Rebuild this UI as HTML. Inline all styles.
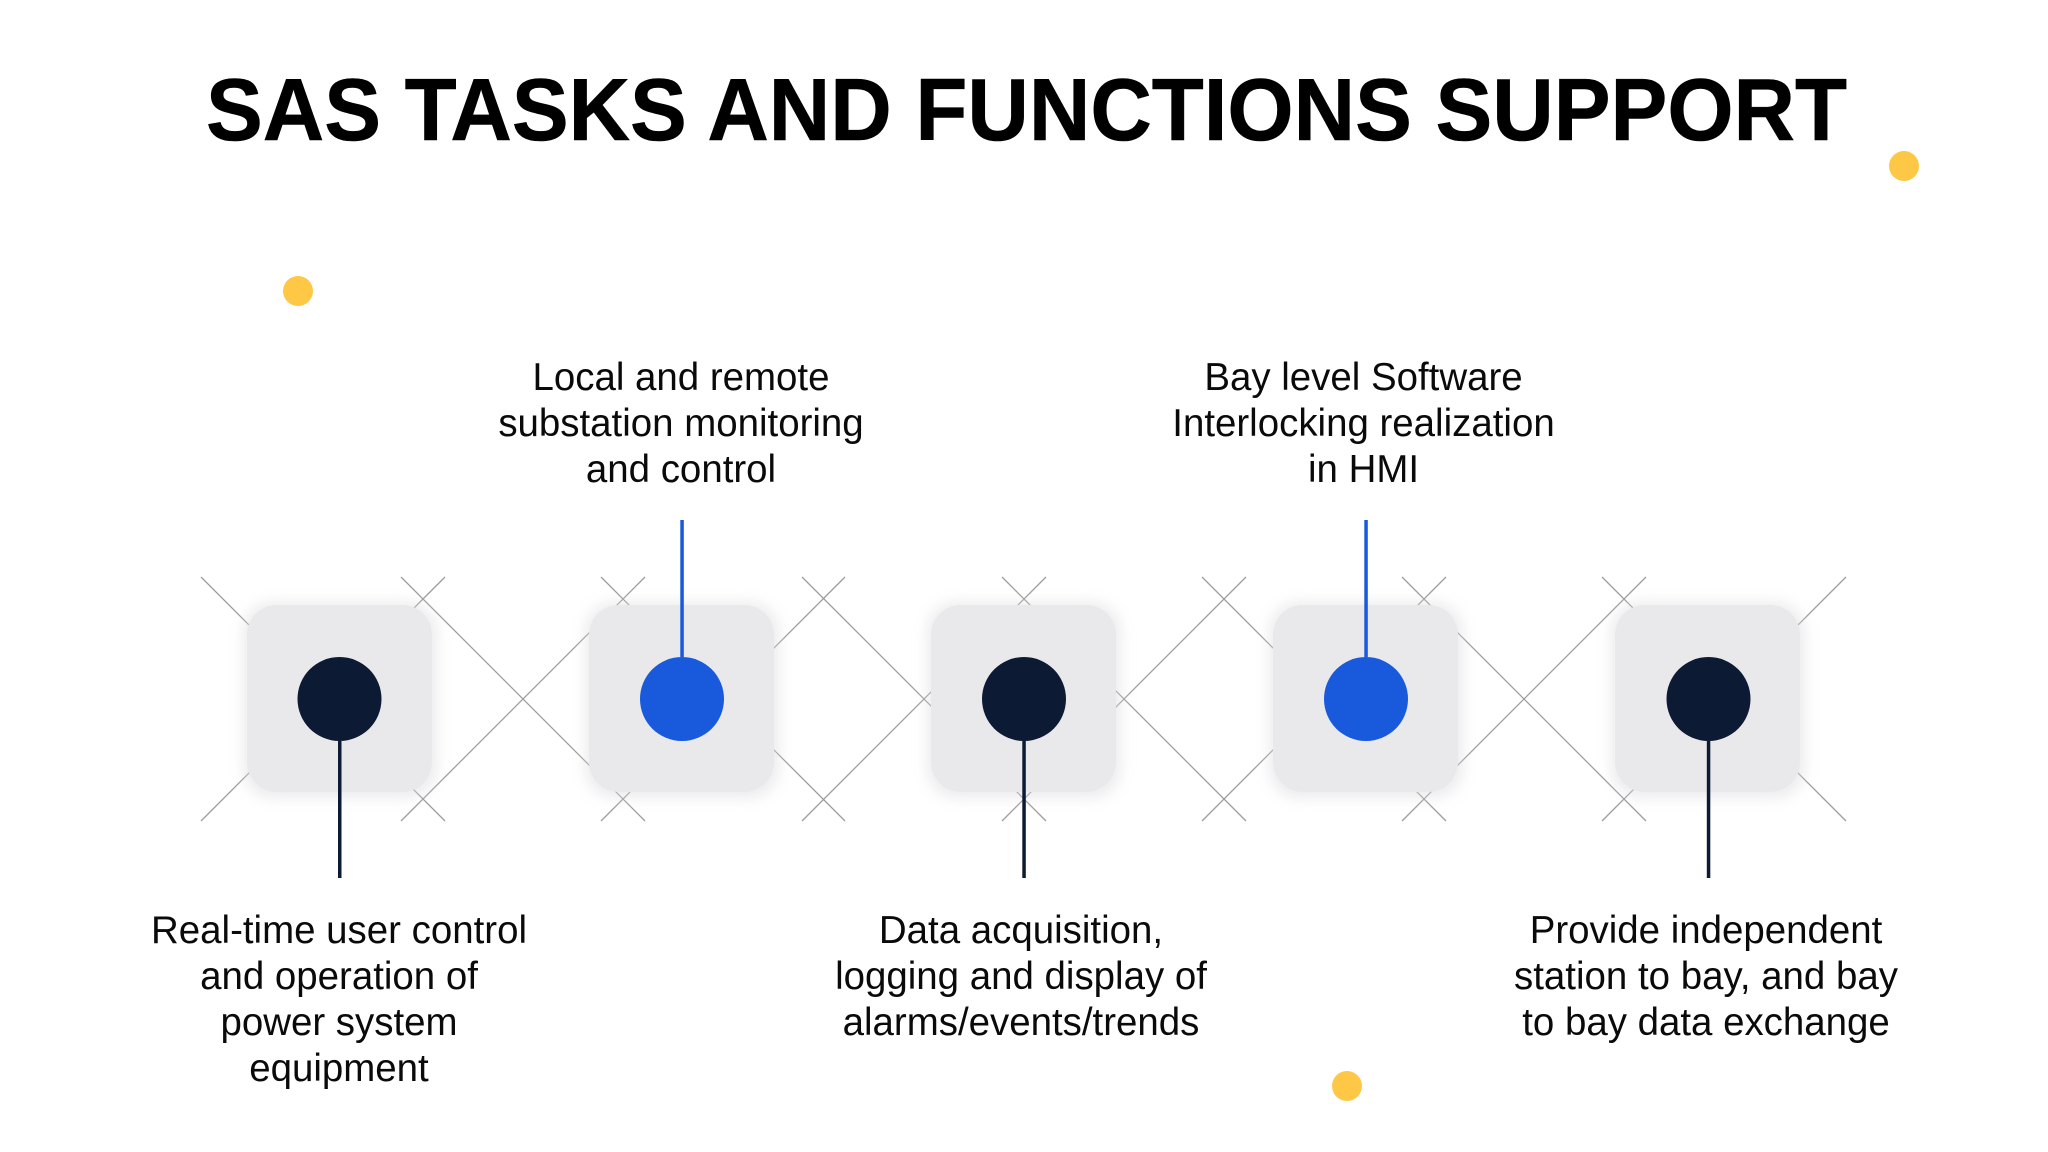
<!DOCTYPE html>
<html><head><meta charset="utf-8"><style>
html,body{margin:0;padding:0;background:#fff}
svg{display:block}
text{font-family:"Liberation Sans",sans-serif;fill:#0a0a0a}
.t{font-size:38.45px;text-anchor:middle}
.h{font-size:88px;font-weight:bold;fill:#000;stroke:#000;stroke-width:.6}
.g line{stroke:#9c9c9c;stroke-width:1.25}
</style></head><body>
<svg xmlns="http://www.w3.org/2000/svg" width="2048" height="1152" viewBox="0 0 2048 1152">
<defs><filter id="s" x="-30%" y="-30%" width="160%" height="160%"><feGaussianBlur stdDeviation="7"/></filter></defs>
<rect width="2048" height="1152" fill="#fff"/>
<text class="h" x="206" y="140" textLength="1641" lengthAdjust="spacingAndGlyphs">SAS TASKS AND FUNCTIONS SUPPORT</text>
<circle cx="1904" cy="166" r="15" fill="#fec846"/>
<circle cx="298" cy="291" r="15" fill="#fec846"/>
<circle cx="1347" cy="1086" r="15" fill="#fec846"/>
<g class="g">
<line x1="201" y1="577" x2="445" y2="821"/><line x1="201" y1="821" x2="445" y2="577"/>
<line x1="401" y1="577" x2="645" y2="821"/><line x1="401" y1="821" x2="645" y2="577"/>
<line x1="601" y1="577" x2="845" y2="821"/><line x1="601" y1="821" x2="845" y2="577"/>
<line x1="802" y1="577" x2="1046" y2="821"/><line x1="802" y1="821" x2="1046" y2="577"/>
<line x1="1002" y1="577" x2="1246" y2="821"/><line x1="1002" y1="821" x2="1246" y2="577"/>
<line x1="1202" y1="577" x2="1446" y2="821"/><line x1="1202" y1="821" x2="1446" y2="577"/>
<line x1="1402" y1="577" x2="1646" y2="821"/><line x1="1402" y1="821" x2="1646" y2="577"/>
<line x1="1602" y1="577" x2="1846" y2="821"/><line x1="1602" y1="821" x2="1846" y2="577"/>
</g>
<g fill="#d9d9de" filter="url(#s)" opacity=".5">
<rect x="243" y="602" width="194" height="196" rx="30"/><rect x="585" y="602" width="194" height="196" rx="30"/><rect x="927" y="602" width="194" height="196" rx="30"/><rect x="1269" y="602" width="194" height="196" rx="30"/><rect x="1611" y="602" width="194" height="196" rx="30"/>
</g>
<g fill="#e9e9eb">
<rect x="247" y="605" width="185" height="187" rx="30"/><rect x="589" y="605" width="185" height="187" rx="30"/><rect x="931" y="605" width="185" height="187" rx="30"/><rect x="1273" y="605" width="185" height="187" rx="30"/><rect x="1615" y="605" width="185" height="187" rx="30"/>
</g>
<rect x="338" y="741" width="3.5" height="137" fill="#0c1b33"/>
<rect x="680.3" y="520" width="3.5" height="137" fill="#185adb"/>
<rect x="1022.3" y="741" width="3.5" height="137" fill="#0c1b33"/>
<rect x="1364.3" y="520" width="3.5" height="137" fill="#185adb"/>
<rect x="1706.8" y="741" width="3.5" height="137" fill="#0c1b33"/>
<circle cx="339.5" cy="699" r="42" fill="#0c1b33"/>
<circle cx="682" cy="699" r="42" fill="#185adb"/>
<circle cx="1024" cy="699" r="42" fill="#0c1b33"/>
<circle cx="1366" cy="699" r="42" fill="#185adb"/>
<circle cx="1708.5" cy="699" r="42" fill="#0c1b33"/>
<text class="t" x="681" y="390">Local and remote</text>
<text class="t" x="681" y="436">substation monitoring</text>
<text class="t" x="681" y="482">and control</text>
<text class="t" x="1363.5" y="390">Bay level Software</text>
<text class="t" x="1363.5" y="436">Interlocking realization</text>
<text class="t" x="1363.5" y="482">in HMI</text>
<text class="t" x="339" y="943">Real-time user control</text>
<text class="t" x="339" y="989">and operation of</text>
<text class="t" x="339" y="1035">power system</text>
<text class="t" x="339" y="1081">equipment</text>
<text class="t" x="1021" y="943">Data acquisition,</text>
<text class="t" x="1021" y="989">logging and display of</text>
<text class="t" x="1021" y="1035">alarms/events/trends</text>
<text class="t" x="1706" y="943">Provide independent</text>
<text class="t" x="1706" y="989">station to bay, and bay</text>
<text class="t" x="1706" y="1035">to bay data exchange</text>
</svg>
</body></html>
